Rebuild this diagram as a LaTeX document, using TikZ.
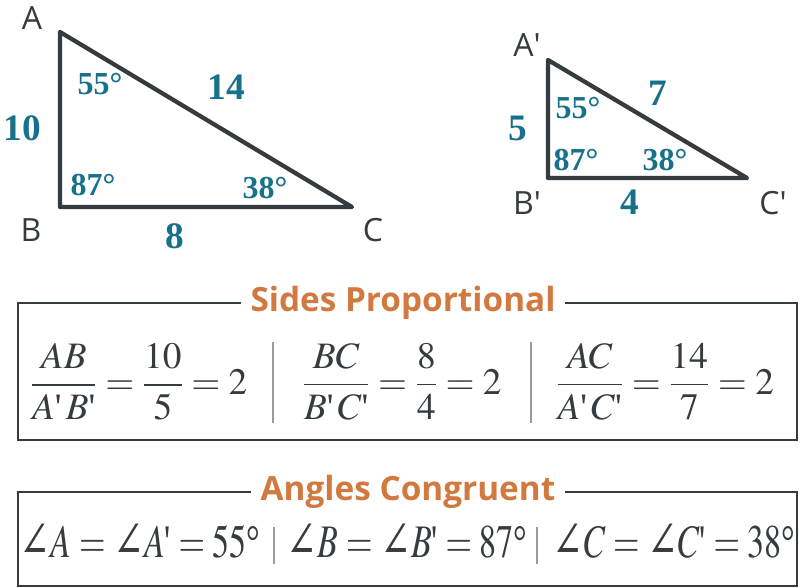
\documentclass[tikz,border=0pt]{standalone}
\usepackage{amsmath}
\usepackage{mathptmx}
\usepackage[no-math]{fontspec}
\setmainfont{Liberation Serif}
\setsansfont{Open Sans}
\newfontfamily\numfont{Liberation Serif}
\newfontfamily\symfont{DejaVu Serif}
\newcommand\pr{\mbox{\textquotesingle}}
\newcommand\ang{\mbox{\symfont\fontsize{38}{40}\selectfont ∠}}
\newcommand\dg{\mbox{°}}
\definecolor{edge}{HTML}{353B3E}
\definecolor{numcol}{HTML}{18718A}
\definecolor{headcol}{HTML}{D27940}
\definecolor{sepcol}{HTML}{9A9A9A}
\tikzset{
	tri/.style={draw=edge,line width=3.2pt,line join=round,line cap=round},
	boxline/.style={draw=edge,line width=1.5pt},
	sepline/.style={draw=sepcol,line width=0.8pt},
	vert/.style={font=\sffamily\fontsize{24}{26}\selectfont,text=edge},
	side/.style={font=\numfont\bfseries\fontsize{28}{30}\selectfont,text=numcol},
	ang/.style={font=\numfont\bfseries\fontsize{24}{26}\selectfont,text=numcol},
	head/.style={font=\sffamily\bfseries\fontsize{25}{27}\selectfont,text=headcol,fill=white,inner xsep=7pt},
	frac/.style={font=\fontsize{28}{32}\selectfont,text=edge},
	angeq/.style={font=\fontsize{35}{38}\selectfont,text=edge,inner sep=0pt},
}
\begin{document}
\begin{tikzpicture}[x=0.75pt,y=-0.75pt]
	\useasboundingbox (0,0) rectangle (800,588);
	% big triangle
	\path
		(60,32) coordinate (A)
		(60,207) coordinate (B)
		(352,207) coordinate (C)
		(32,18) node[vert] (nA) {A}
		(31,230) node[vert] (nB) {B}
		(373,230) node[vert] (nC) {C}
		(22,128) node[side] (sAB) {10}
		(226,87) node[side] (sAC) {14}
		(175,236) node[side] (sBC) {8}
		(100,84) node[ang] (aA) {55°}
		(93,185) node[ang] (aB) {87°}
		(265,188) node[ang] (aC) {38°}
		;
	% small triangle
	\path
		(548,60) coordinate (A2)
		(548,178) coordinate (B2)
		(747,178) coordinate (C2)
		(527,45) node[vert] (nA2) {A′}
		(527,203) node[vert] (nB2) {B′}
		(773,203) node[vert] (nC2) {C′}
		(518,128) node[side] (sA2B2) {5}
		(658,93) node[side] (sA2C2) {7}
		(630,202) node[side] (sB2C2) {4}
		(578,108) node[ang] (aA2) {55°}
		(576,160) node[ang] (aB2) {87°}
		(665,160) node[ang] (aC2) {38°}
		;
	\draw[tri] (A) -- (B) -- (C) -- cycle;
	\draw[tri] (A2) -- (B2) -- (C2) -- cycle;

	% sides
	\draw[boxline] (18,303) rectangle (797,440);
	\node[head] (hSides) at (403,303) {Sides Proportional};
	\path
		(139,382) node[frac] (rAB) {$\dfrac{AB}{A\pr\,B\pr}=\dfrac{10}{5}=2$}
		(402,382) node[frac] (rBC) {$\dfrac{BC}{B\pr\,C\pr}=\dfrac{8}{4}=2$}
		(665,382) node[frac] (rAC) {$\dfrac{AC}{A\pr\,C\pr}=\dfrac{14}{7}=2$}
		;
	\draw[sepline] (273,342) -- (273,423);
	\draw[sepline] (531,342) -- (531,423);

	% angles
	\draw[boxline] (18,492) rectangle (797,586);
	\node[head] (hAngles) at (408,492) {Angles Congruent};
	\path
		(140,541) node[angeq] (eA) {\scalebox{0.73}[1]{$\ang A=\ang A\pr=55\dg$}}
		(407,541) node[angeq] (eB) {\scalebox{0.73}[1]{$\ang B=\ang B\pr=87\dg$}}
		(674,541) node[angeq] (eC) {\scalebox{0.73}[1]{$\ang C=\ang C\pr=38\dg$}}
		;
	\draw[sepline] (274,527) -- (274,564);
	\draw[sepline] (537,527) -- (537,564);
\end{tikzpicture}
\end{document}
